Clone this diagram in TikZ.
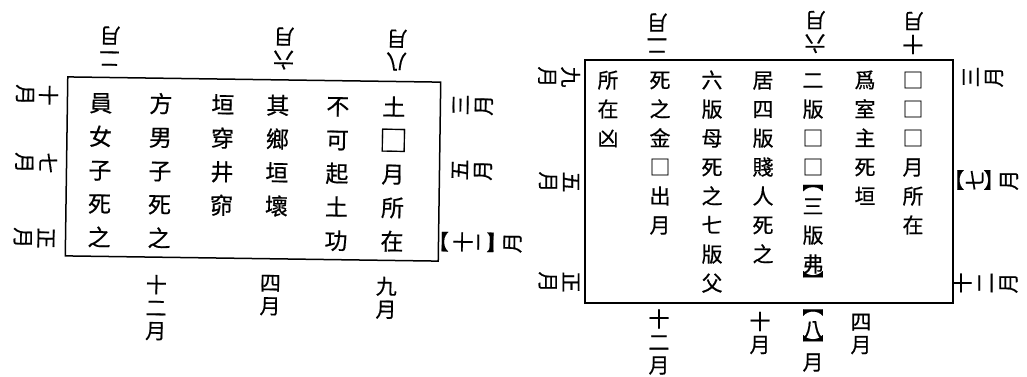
\documentclass[tikz,border=0pt]{standalone}
\usepackage{graphicx}
\usepackage{fontspec}
\newfontfamily\cjk{Noto Sans CJK TC}[FakeBold=0.5]
\begin{document}
\begin{tikzpicture}[x=1pt,y=-1pt,
  frame/.style={draw, line width=1.5pt, inner sep=0pt},
  chl/.style={inner sep=0pt, font=\fontsize{23}{23}\selectfont\cjk, text height=20.2pt, text depth=2.8pt},
  chr/.style={inner sep=0pt, font=\fontsize{21}{21}\selectfont\cjk, text height=18.5pt, text depth=2.5pt},
  chb/.style={inner sep=0pt, font=\fontsize{21}{21}\selectfont\cjk},
  chlab/.style={inner sep=0pt, font=\fontsize{21}{21}\selectfont\cjk, text height=18.5pt, text depth=2.5pt},
  lab/.style={inner sep=0pt, align=center, font=\fontsize{21}{23}\selectfont\cjk},
]
\path[fill=white, use as bounding box] (0,0) rectangle (1027,376);

% ---------------- left diagram ----------------
\begin{scope}[rotate around={-0.8:(253,169)}, transform shape]
\node[frame, minimum width=373pt, minimum height=179pt] (boxL) at (253,169) {};
\foreach \c [count=\i] in {員,女,子,死,之}
  \node[chl] (L1-\i) at (100,{105+33.6*(\i-1)}) {\c};
\foreach \c [count=\i] in {方,男,子,死,之}
  \node[chl] (L2-\i) at (160,{105+33.6*(\i-1)}) {\c};
\foreach \c [count=\i] in {垣,穿,井,窌}
  \node[chl] (L3-\i) at (222,{105+33.6*(\i-1)}) {\c};
\foreach \c [count=\i] in {其,鄉,垣,壞}
  \node[chl] (L4-\i) at (277,{105+33.6*(\i-1)}) {\c};
\foreach \c [count=\i] in {不,可,起,土,功}
  \node[chl] (L5-\i) at (337,{105+33.6*(\i-1)}) {\c};
\node[chl] (L6-1) at (393,105) {土};
\node[chl] (L6-2) at (393,140.6) {\scalebox{1.25}{□}};
\node[chl] (L6-3) at (393,172.2) {月};
\node[chl] (L6-4) at (393,205.8) {所};
\node[chl] (L6-5) at (393,239.4) {在};

\node[lab, rotate=180] (LT1) at (108,48) {二\\月};
\node[lab, rotate=180] (LT2) at (282,48) {六\\月};
\node[lab, rotate=180] (LT3) at (395,48) {八\\月};
\node[lab, rotate=-90] (LW1) at (36,98) {十\\月};
\node[lab, rotate=-90] (LW2) at (36,166) {七\\月};
\node[lab, rotate=-90] (LW3) at (35,241) {正\\月};
\node[lab, rotate=90] (LE1) at (472,102) {三\\月};
\node[lab, rotate=90] (LE2) at (472,167) {五\\月};
% 【十二】月, read sideways
\node[chb, rotate=90] (LE3a) at (446,239) {︻};
\node[chlab, rotate=90] (LE3b) at (464,239) {十};
\node[chlab, rotate=90] (LE3c) at (485,239) {二};
\node[chb, rotate=90] (LE3d) at (497,239) {︼};
\node[chlab, rotate=90] (LE3e) at (513,239) {月};
\node[lab] (LB1) at (158,309) {十\\二\\月};
\node[lab] (LB2) at (272,295) {四\\月};
\node[lab] (LB3) at (388,296) {九\\月};
\end{scope}

% ---------------- right diagram ----------------
\node[frame, minimum width=368pt, minimum height=243pt] (boxR) at (769,181.5) {};
\foreach \c [count=\i] in {所,在,凶}
  \node[chr] (R1-\i) at (608,{80+29*(\i-1)}) {\c};
\foreach \c [count=\i] in {死,之,金,□,出,月}
  \node[chr] (R2-\i) at (660,{80+29*(\i-1)}) {\c};
\foreach \c [count=\i] in {六,版,母,死,之,七,版,父}
  \node[chr] (R3-\i) at (712,{80+29*(\i-1)}) {\c};
\foreach \c [count=\i] in {居,四,版,賤,人,死,之}
  \node[chr] (R4-\i) at (763,{80+29*(\i-1)}) {\c};
\foreach \c/\y [count=\i] in {二/80,版/109,□/138,□/167,三/206,版/235,弗/264}
  \node[chr] (R5-\i) at (813,\y) {\c};
\node[chb] (R5-o) at (813,188) {︻};
\node[chb] (R5-c) at (813,280) {︼};
\foreach \c [count=\i] in {爲,室,主,死,垣}
  \node[chr] (R6-\i) at (865,{80+29*(\i-1)}) {\c};
\foreach \c [count=\i] in {□,□,□,月,所,在}
  \node[chr] (R7-\i) at (913,{80+29*(\i-1)}) {\c};

\node[lab, rotate=180] (RT1) at (657,33) {二\\月};
\node[lab, rotate=180] (RT2) at (815,32) {六\\月};
\node[lab, rotate=180] (RT3) at (913,33) {十\\月};
\node[lab, rotate=-90] (RW1) at (559,77) {九\\月};
\node[lab, rotate=-90] (RW2) at (559,182) {五\\月};
\node[lab, rotate=-90] (RW3) at (559,282) {正\\月};
\node[lab, rotate=90] (RE1) at (983,77) {三\\月};
% 【七】月, read sideways
\node[chb, rotate=90] (RE2a) at (960.5,180) {︻};
\node[chlab, rotate=90] (RE2b) at (975,180) {七};
\node[chb, rotate=90] (RE2c) at (993,180) {︼};
\node[chlab, rotate=90] (RE2d) at (1008.5,180) {月};
\node[lab, rotate=90] (RE3) at (985,283) {十\\二\\月};
\node[lab] (RB1) at (659,342) {十\\二\\月};
\node[lab] (RB2) at (760,333) {十\\月};
% 【八】月
\node[chb] (RB3a) at (813,312.5) {︻};
\node[chlab] (RB3b) at (813,329.5) {八};
\node[chb] (RB3c) at (813,344) {︼};
\node[chlab] (RB3d) at (813,362) {月};
\node[lab] (RB4) at (861,334) {四\\月};
\end{tikzpicture}
\end{document}
